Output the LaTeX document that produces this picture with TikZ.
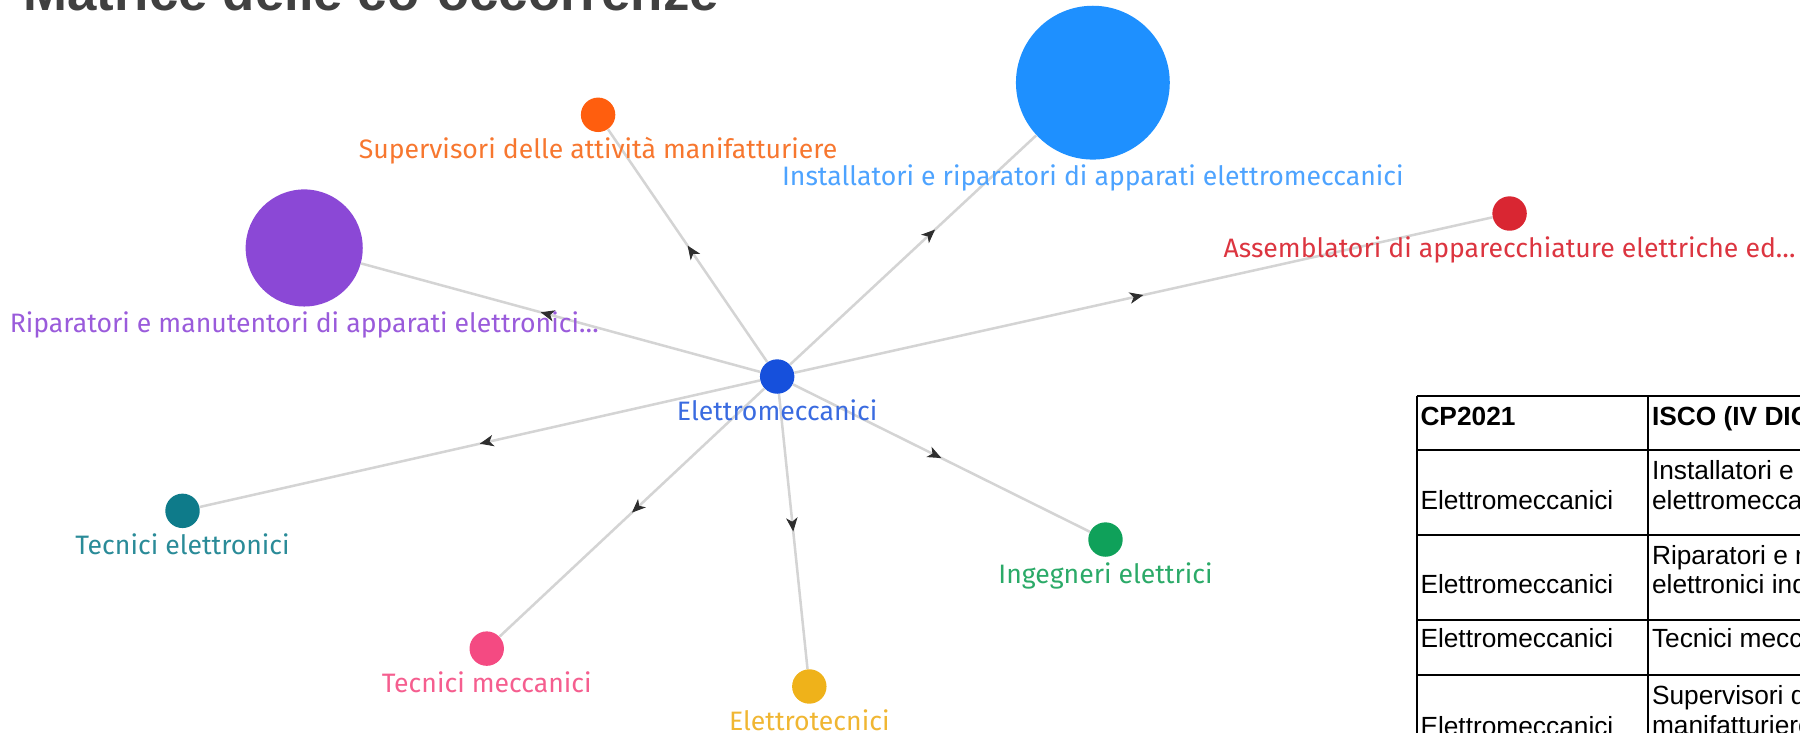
\documentclass[tikz,border=0pt]{standalone}
\usepackage{fontspec}
\setmainfont{Liberation Sans}
\newfontfamily\labfont{Fira Sans}
\usetikzlibrary{arrows.meta,decorations.markings}
\pgfdeclarelayer{bg}
\pgfsetlayers{bg,main}
\definecolor{edgegray}{HTML}{D4D4D4}
\definecolor{arrowgray}{HTML}{2E2E2E}
\definecolor{titlegray}{HTML}{404040}
\definecolor{cE}{HTML}{1650DC}\definecolor{lE}{HTML}{3A6BE0}
\definecolor{cS}{HTML}{FF5E0E}\definecolor{lS}{HTML}{F7772F}
\definecolor{cI}{HTML}{1E90FF}\definecolor{lI}{HTML}{4DA3FF}
\definecolor{cA}{HTML}{D92632}\definecolor{lA}{HTML}{DC3540}
\definecolor{cR}{HTML}{8B48D6}\definecolor{lR}{HTML}{9A5BDB}
\definecolor{cTE}{HTML}{0E7B8A}\definecolor{lTE}{HTML}{2A8B98}
\definecolor{cTM}{HTML}{F44A82}\definecolor{lTM}{HTML}{F55E8F}
\definecolor{cET}{HTML}{EFB21A}\definecolor{lET}{HTML}{F0B632}
\definecolor{cIE}{HTML}{0FA15A}\definecolor{lIE}{HTML}{2BAA68}
\tikzset{
  dot/.style={circle, inner sep=0pt, minimum size=#1, draw=none},
  lab/.style={font=\labfont\fontsize{11.6pt}{14pt}\selectfont, anchor=base, inner sep=0pt},
  edge/.style={draw=edgegray, line width=1.1pt},
  midarrow/.style={decoration={markings, mark=at position 0.5 with {\arrow[arrowgray]{Stealth[length=6pt,width=5pt,inset=1.7pt]}}}, postaction={decorate}},
  tabline/.style={line width=0.8pt, draw=black},
  tabtxt/.style={font=\fontsize{11.45pt}{13pt}\selectfont, anchor=base west, inner sep=0pt},
  tabhead/.style={tabtxt, font=\bfseries\fontsize{11.45pt}{13pt}\selectfont},
}
\begin{document}
\begin{tikzpicture}[x=0.5pt,y=-0.5pt]
\useasboundingbox (0,0) rectangle (1568,638);
\clip (0,0) rectangle (1568,638);

% title
\node[anchor=base west, inner sep=0pt, font=\bfseries\fontsize{23pt}{27pt}\selectfont, text=titlegray] (title) at (20,9) {Matrice delle co-occorrenze};

% nodes
\node[dot=15pt, fill=cE] (E) at (677,328) {};
\node[dot=15pt, fill=cS] (S) at (521,100) {};
\node[dot=67pt, fill=cI] (I) at (952,72) {};
\node[dot=15pt, fill=cA] (A) at (1315,186) {};
\node[dot=51pt, fill=cR] (R) at (265,216) {};
\node[dot=15pt, fill=cTE] (TE) at (159,445) {};
\node[dot=15pt, fill=cTM] (TM) at (424,565) {};
\node[dot=15pt, fill=cET] (ET) at (705,598) {};
\node[dot=15pt, fill=cIE] (IE) at (963,470) {};

% labels
\node[lab, text=lE] (lbE) at (677,366) {Elettromeccanici};
\node[lab, text=lS] (lbS) at (521,138) {Supervisori delle attività manifatturiere};
\node[lab, text=lI] (lbI) at (952,162) {Installatori e riparatori di apparati elettromeccanici};
\node[lab, text=lA] (lbA) at (1315,224) {Assemblatori di apparecchiature elettriche ed…};
\node[lab, text=lR] (lbR) at (265,290) {Riparatori e manutentori di apparati elettronici…};
\node[lab, text=lTE] (lbTE) at (159,483) {Tecnici elettronici};
\node[lab, text=lTM] (lbTM) at (424,603) {Tecnici meccanici};
\node[lab, text=lET] (lbET) at (705,636) {Elettrotecnici};
\node[lab, text=lIE] (lbIE) at (963,508) {Ingegneri elettrici};

% edges
\begin{pgfonlayer}{bg}
\foreach \n in {S,I,A,R,TE,TM,ET,IE}{
  \draw[edge] (E) -- (\n);
  \path[midarrow] (E.center) -- (\n.center);
}
\end{pgfonlayer}

% table
\draw[tabline] (1234,345) -- (1700,345);
\draw[tabline] (1234,392) -- (1700,392);
\draw[tabline] (1234,466) -- (1700,466);
\draw[tabline] (1234,540) -- (1700,540);
\draw[tabline] (1234,588) -- (1700,588);
\draw[tabline] (1234,345) -- (1234,700);
\draw[tabline] (1435.5,345) -- (1435.5,700);

\node[tabhead] (h1) at (1237,370.5) {CP2021};
\node[tabhead] (h2) at (1438.7,370.5) {ISCO (IV DIGIT)};
\node[tabtxt] (r2a) at (1237,443.7) {Elettromeccanici};
\node[tabtxt] (r2b) at (1438.7,418) {Installatori e riparatori di apparati};
\node[tabtxt] (r2c) at (1438.7,443.7) {elettromeccanici};
\node[tabtxt] (r3a) at (1237,516.8) {Elettromeccanici};
\node[tabtxt] (r3b) at (1438.7,491.6) {Riparatori e manutentori di apparati};
\node[tabtxt] (r3c) at (1438.7,516.8) {elettronici industriali};
\node[tabtxt] (r4a) at (1237,563.9) {Elettromeccanici};
\node[tabtxt] (r4b) at (1438.7,563.9) {Tecnici meccanici};
\node[tabtxt] (r5a) at (1237,641) {Elettromeccanici};
\node[tabtxt] (r5b) at (1438.7,614) {Supervisori delle attività};
\node[tabtxt] (r5c) at (1438.7,639.5) {manifatturiere};
\end{tikzpicture}
\end{document}
